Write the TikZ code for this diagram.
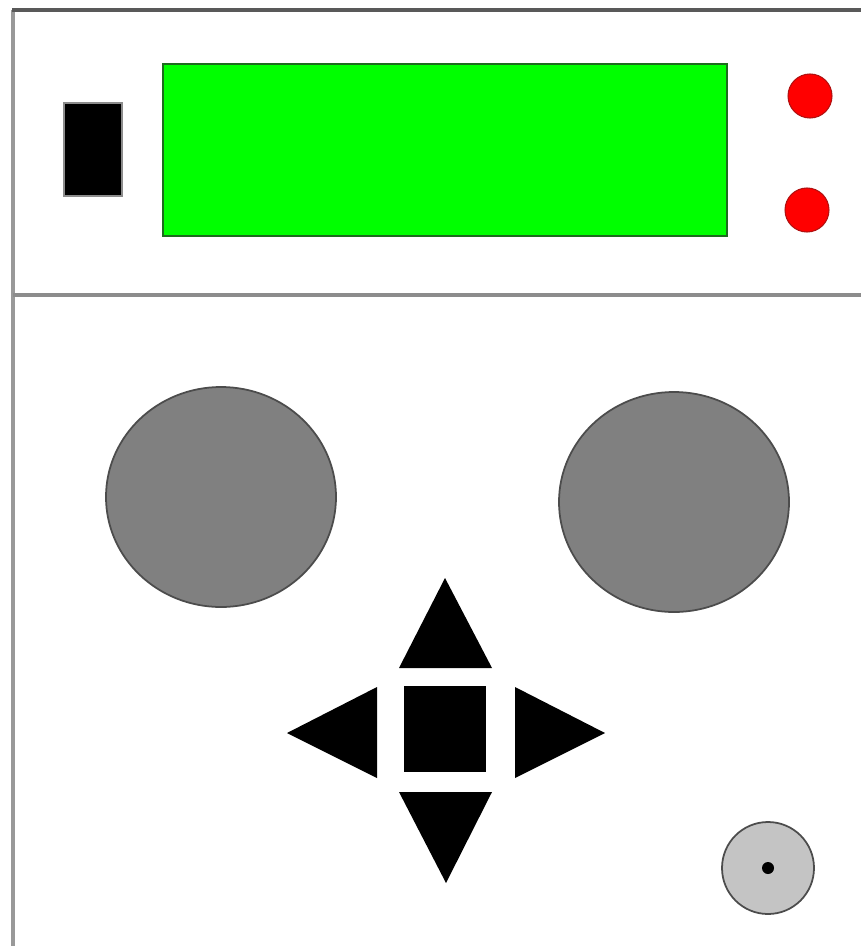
\documentclass[tikz,border=0pt]{standalone}
\usepackage{xcolor}
\usepackage{tikz}
\usetikzlibrary{calc}
\definecolor{panelLine}{HTML}{8C8C8C}
\definecolor{lcdGreen}{HTML}{00FF00}
\definecolor{lcdEdge}{HTML}{1E6B1E}
\definecolor{ledRed}{HTML}{FF0000}
\definecolor{ledEdge}{HTML}{B01010}
\definecolor{knobGrey}{HTML}{808080}
\definecolor{trimGrey}{HTML}{C4C4C4}

\begin{document}
\begin{tikzpicture}[x=0.02cm, y=-0.02cm,
  knob/.style={fill=knobGrey, draw=black!70, line width=1pt},
  padkey/.style={fill=black, draw=none}]
  \useasboundingbox (0,0) rectangle (861,946);
  % Panel frame and divider between display and control areas
  \draw[line width=2pt, black!40] (13,946) -- (13,10);
  \draw[line width=2pt, black!65] (12,10) -- (861,10);
  \draw[line width=2pt, panelLine] (13,295) -- (861,295);
  % Power switch
  \draw[fill=black, draw=black!45, line width=1pt] (64,103) rectangle (122,196);
  % LCD window
  \draw[fill=lcdGreen, draw=lcdEdge, line width=1.2pt] (163,64) rectangle (727,236);
  % Status LEDs
  \draw[fill=ledRed, draw=ledEdge, line width=0.6pt] (810,96) circle (22);
  \draw[fill=ledRed, draw=ledEdge, line width=0.6pt] (807,210) circle (22);
  % Two large rotary knobs
  \draw[knob] (221,497) ellipse (115 and 110);
  \draw[knob] (674,502) ellipse (115 and 110);
  % Direction pad (arrows round a centre key)
  \fill[padkey] (445,578) -- (492,668) -- (399,668) -- cycle;
  \fill[padkey] (446,883) -- (492,792) -- (399,792) -- cycle;
  \fill[padkey] (287,733) -- (377,687) -- (377,778) -- cycle;
  \fill[padkey] (605,733) -- (515,687) -- (515,778) -- cycle;
  \fill[padkey] (404,686) rectangle (486,772);
  % Small trim knob
  \draw[fill=trimGrey, draw=black!70, line width=1pt] (768,868) circle (46);
  \fill[black] (768,868) circle (6);
\end{tikzpicture}
\end{document}
